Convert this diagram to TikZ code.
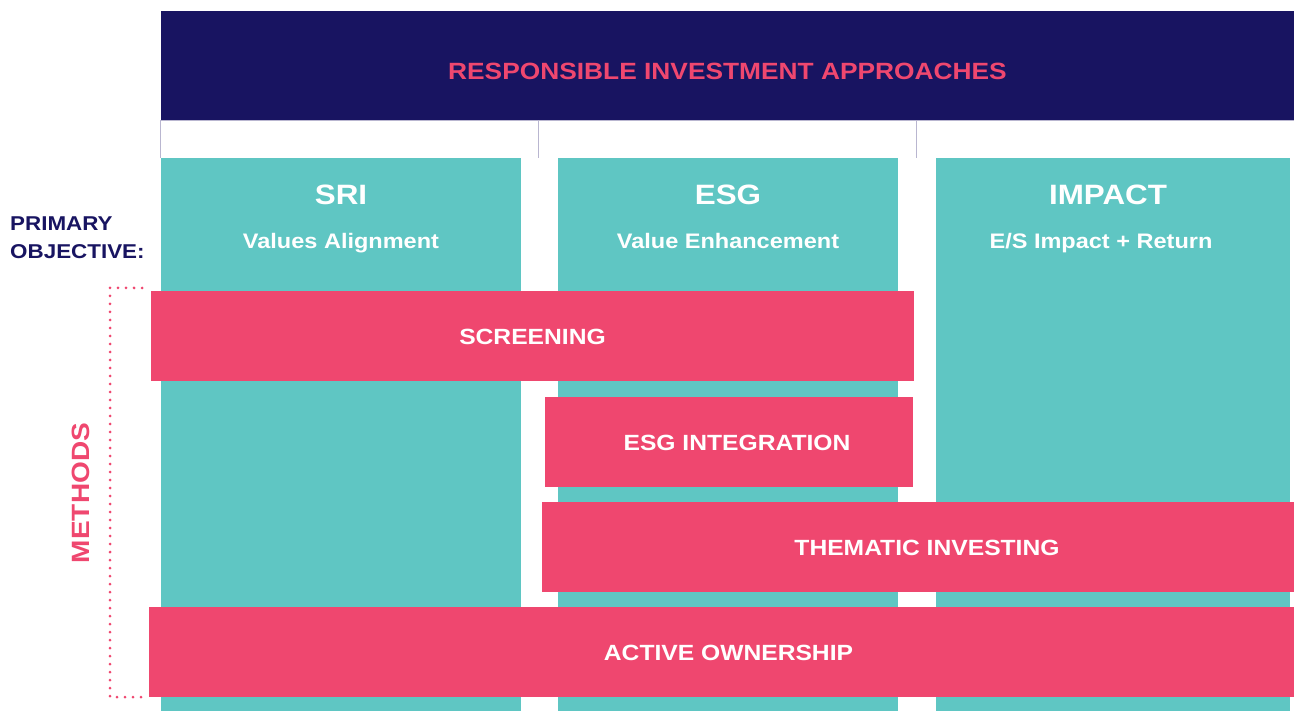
\documentclass[tikz,border=0pt]{standalone}
\usepackage{fontspec}
\setmainfont{Liberation Sans}[FakeStretch=1.12]
\usepackage{tikz}
\usetikzlibrary{calc,positioning}
\definecolor{rinavy}{HTML}{181461}
\definecolor{riteal}{HTML}{5FC6C3}
\definecolor{ripink}{HTML}{EF476F}
\definecolor{rililac}{HTML}{B9B6D0}
\tikzset{
	column/.style={fill=riteal, inner sep=0pt, outer sep=0pt, minimum height=553pt},
	method/.style={fill=ripink, text=white, inner sep=0pt, outer sep=0pt, minimum height=90pt,
		text height=18pt, font=\bfseries\fontsize{22}{26}\selectfont},
	coltitle/.style={text=white, anchor=base, inner sep=0pt, font=\bfseries\fontsize{28}{32}\selectfont},
	colsub/.style={text=white, anchor=base, inner sep=0pt, font=\bfseries\fontsize{21}{25}\selectfont},
	divider/.style={draw=rililac, line width=0.8pt},
	bracket/.style={draw=ripink, line width=3pt, line cap=round, dash pattern=on 0pt off 8pt}
}

\begin{document}
\begin{tikzpicture}[x=1pt, y=-1pt]
		%%%%% START %%%%%
		\useasboundingbox (0, 0) rectangle (1294, 711);
		
		\node[fill=rinavy, inner sep=0pt, minimum width=1133pt, minimum height=109pt, text height=29pt,
			text=ripink, font=\bfseries\fontsize{23.5}{28}\selectfont] (header) at (727.5, 65.5)
			{RESPONSIBLE INVESTMENT APPROACHES};
		\draw[divider] (header.south west) -- (header.south east);
		\draw[divider] (header.south west) -- ++(0, 38);
		\draw[divider] ([xshift=378pt]header.south west) -- ++(0, 38);
		\draw[divider] ([xshift=756pt]header.south west) -- ++(0, 38);
		
		\node[column, minimum width=360pt] (sri) at (341, 434.5) {};
		\node[column, minimum width=340pt] (esg) at (728, 434.5) {};
		\node[column, minimum width=354pt] (impact) at (1113, 434.5) {};
		
		\node[coltitle] (sri title) at (341, 205) {SRI};
		\node[colsub] (sri sub) at (341, 249) {Values Alignment};
		\node[coltitle] (esg title) at (728, 205) {ESG};
		\node[colsub] (esg sub) at (728, 249) {Value Enhancement};
		\node[coltitle] (impact title) at (1108, 205) {IMPACT};
		\node[colsub] (impact sub) at (1101, 249) {E/S Impact + Return};
		
		\node[text=rinavy, align=left, anchor=west, inner sep=0pt,
			font=\bfseries\fontsize{20}{28}\selectfont] (objective) at (10, 237.5)
			{PRIMARY\\OBJECTIVE:};
		
		\node[method, minimum width=763pt] (screening) at (532.5, 336) {SCREENING};
		\node[method, minimum width=368pt] (integration) at (729, 442) {\hspace*{16pt}ESG INTEGRATION};
		\node[method, minimum width=752pt] (thematic) at (918, 547) {\hspace*{18pt}THEMATIC INVESTING};
		\node[method, minimum width=1145pt] (ownership) at (721.5, 652) {\hspace*{14pt}ACTIVE OWNERSHIP};
		
		\draw[bracket] ([xshift=-9pt, yshift=3pt]screening.north west) -- ++(-32, 0)
			|- ([xshift=-7pt]ownership.south west);
		\node[rotate=90, text=ripink, inner sep=0pt,
			font=\bfseries\fontsize{25}{30}\selectfont] (methods) at (81, 493) {METHODS};
		
		%%%%% END %%%%%
	\end{tikzpicture}
\end{document}
